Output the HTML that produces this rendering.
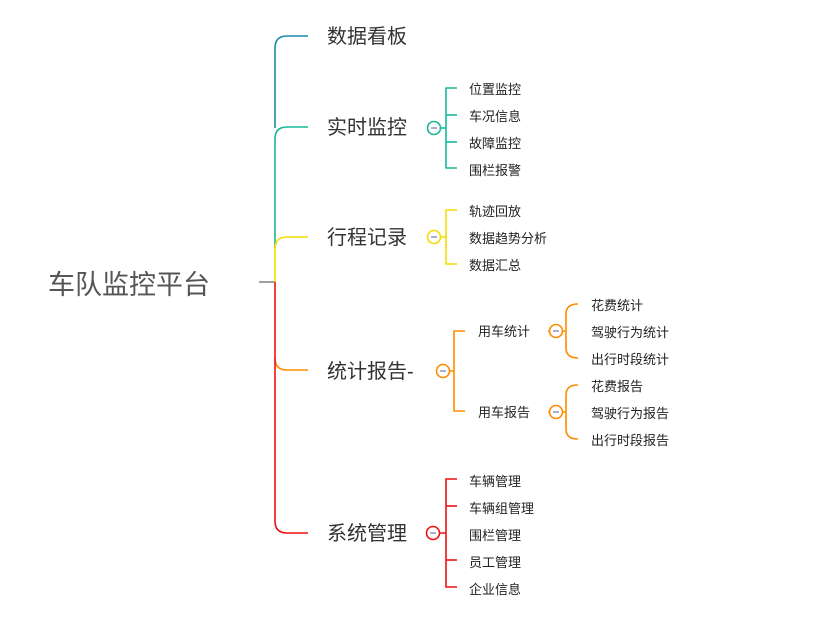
<!DOCTYPE html>
<html><head><meta charset="utf-8"><style>
html,body{margin:0;padding:0;background:#fff;}
svg{display:block}
text{font-family:"Liberation Sans","Noto Sans CJK SC",sans-serif;fill:#333;}
.l1{font-size:20px}
.l2{font-size:13px;fill:#222}
</style></head><body>
<svg width="818" height="632" viewBox="0 0 818 632" xmlns="http://www.w3.org/2000/svg">
<g fill="none" stroke-width="1.6">
<!-- root -->
<line x1="259" y1="282" x2="275" y2="282" stroke="#888"/>
<!-- trunk segments -->
<path d="M308 36 H287 Q275 36 275 48 V128" stroke="#1a8aa8"/>
<path d="M308 127 H287 Q275 127 275 139 V248" stroke="#19b89b"/>
<path d="M308 237 H287 Q275 237 275 249 V283" stroke="#f7dc00"/>
<path d="M308 370 H287 Q275 370 275 358" stroke="#ff8c00"/>
<path d="M275 282 V521 Q275 533 287 533 H308" stroke="#f01010"/>
<!-- 实时监控 -->
<g stroke="#19b89b">
<line x1="428" y1="128" x2="446" y2="128"/>
<path d="M457 88 H446 V168 H457"/>
<line x1="446" y1="115" x2="457" y2="115"/>
<line x1="446" y1="142" x2="457" y2="142"/>
</g>
<circle cx="434" cy="128" r="6.5" fill="#fff" stroke="#19b89b"/>
<line x1="431" y1="128" x2="437" y2="128" stroke="#9a9ac8" stroke-width="1.6"/>
<!-- 行程记录 -->
<g stroke="#f7dc00">
<line x1="428" y1="237" x2="446" y2="237"/>
<path d="M457 210 H446 V264 H457"/>
</g>
<circle cx="434" cy="237" r="6.5" fill="#fff" stroke="#f7dc00"/>
<line x1="431" y1="237" x2="437" y2="237" stroke="#9a9ac8" stroke-width="1.6"/>
<!-- 统计报告 -->
<g stroke="#ff8c00">
<line x1="437" y1="371" x2="454" y2="371"/>
<path d="M465 331 H454 V411 H465"/>
<line x1="548" y1="331" x2="566" y2="331"/>
<path d="M578 304 Q566 304 566 314 V348 Q566 358 578 358"/>
<line x1="548" y1="412" x2="566" y2="412"/>
<path d="M578 385 Q566 385 566 395 V429 Q566 439 578 439"/>
</g>
<circle cx="443" cy="371" r="6.5" fill="#fff" stroke="#ff8c00"/>
<line x1="440" y1="371" x2="446" y2="371" stroke="#9a9ac8" stroke-width="1.6"/>
<circle cx="556" cy="331" r="6.5" fill="#fff" stroke="#ff8c00"/>
<line x1="553" y1="331" x2="559" y2="331" stroke="#9a9ac8" stroke-width="1.6"/>
<circle cx="556" cy="412" r="6.5" fill="#fff" stroke="#ff8c00"/>
<line x1="553" y1="412" x2="559" y2="412" stroke="#9a9ac8" stroke-width="1.6"/>
<!-- 系统管理 -->
<g stroke="#f01010">
<line x1="427" y1="533" x2="446" y2="533"/>
<path d="M457 479 H446 V587 H457"/>
<line x1="446" y1="506" x2="457" y2="506"/>
<line x1="446" y1="560" x2="457" y2="560"/>
</g>
<circle cx="433" cy="533" r="6.5" fill="#fff" stroke="#f01010"/>
<line x1="430" y1="533" x2="436" y2="533" stroke="#9a9ac8" stroke-width="1.6"/>
</g>
<text x="48" y="294" style="font-size:27px;fill:#555">车队监控平台</text>
<text class="l1" x="327" y="43">数据看板</text>
<text class="l1" x="327" y="134">实时监控</text>
<text class="l1" x="327" y="244">行程记录</text>
<text class="l1" x="327" y="378">统计报告-</text>
<text class="l1" x="327" y="540">系统管理</text>
<text class="l2" x="469" y="94">位置监控</text>
<text class="l2" x="469" y="121">车况信息</text>
<text class="l2" x="469" y="148">故障监控</text>
<text class="l2" x="469" y="175">围栏报警</text>
<text class="l2" x="469" y="216">轨迹回放</text>
<text class="l2" x="469" y="243">数据趋势分析</text>
<text class="l2" x="469" y="270">数据汇总</text>
<text class="l2" x="478" y="336">用车统计</text>
<text class="l2" x="478" y="417">用车报告</text>
<text class="l2" x="591" y="310">花费统计</text>
<text class="l2" x="591" y="337">驾驶行为统计</text>
<text class="l2" x="591" y="364">出行时段统计</text>
<text class="l2" x="591" y="391">花费报告</text>
<text class="l2" x="591" y="418">驾驶行为报告</text>
<text class="l2" x="591" y="445">出行时段报告</text>
<text class="l2" x="469" y="486">车辆管理</text>
<text class="l2" x="469" y="513">车辆组管理</text>
<text class="l2" x="469" y="540">围栏管理</text>
<text class="l2" x="469" y="567">员工管理</text>
<text class="l2" x="469" y="594">企业信息</text>
</svg>
</body></html>
